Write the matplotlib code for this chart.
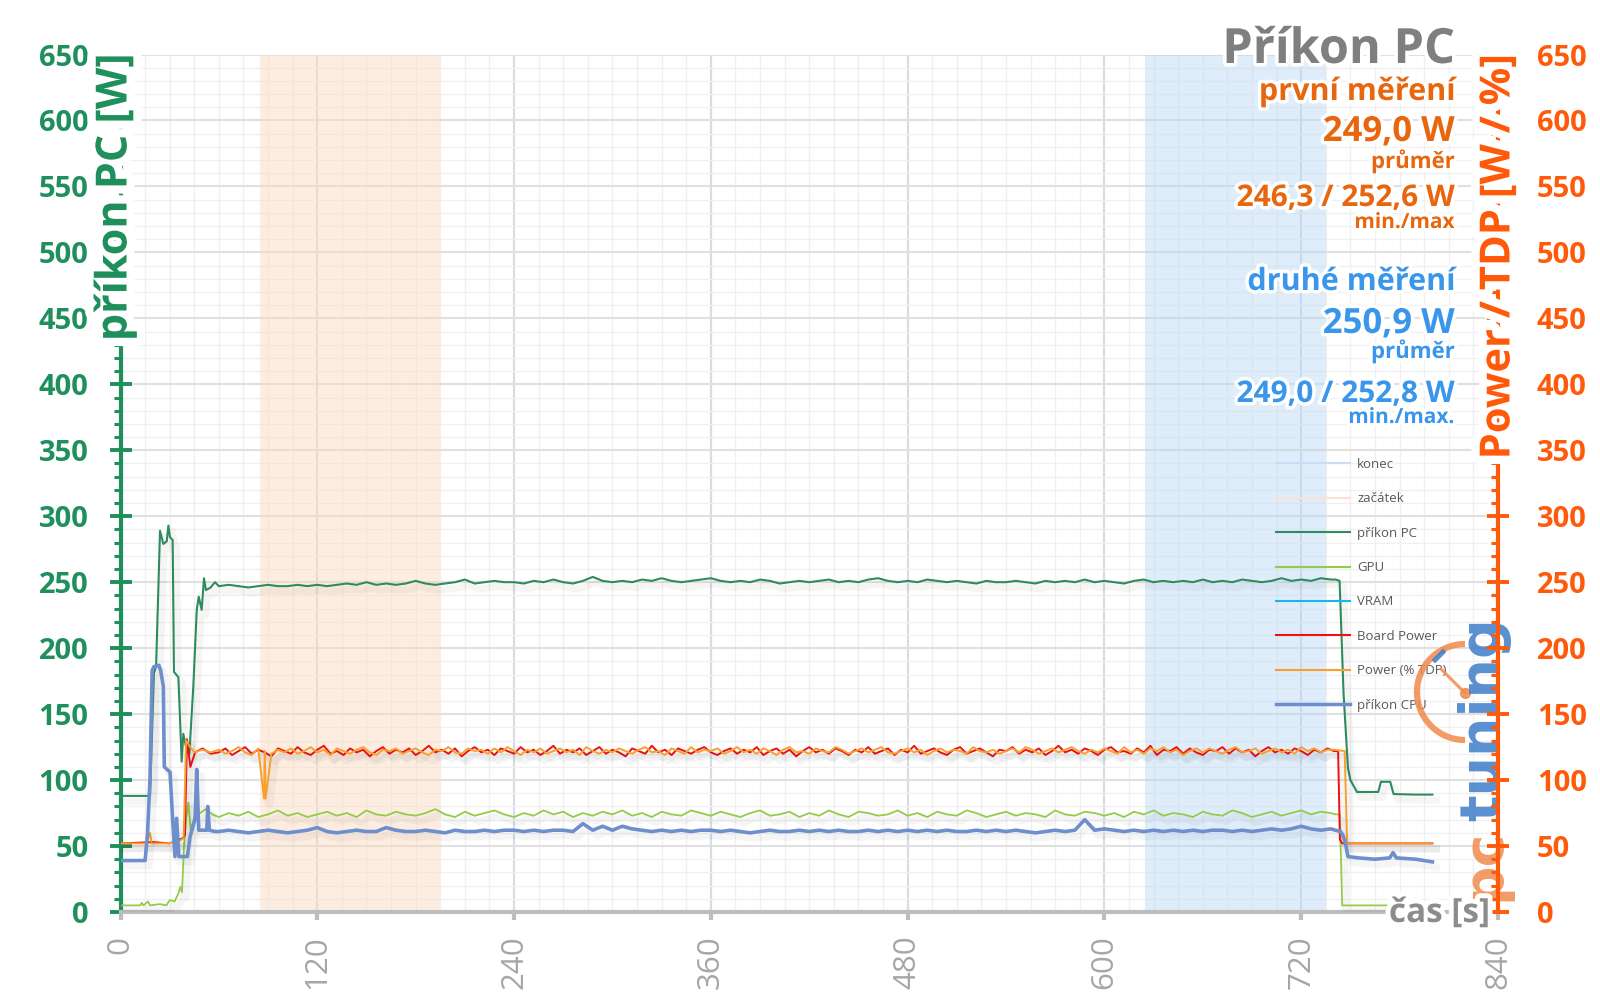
import numpy as np
import matplotlib
matplotlib.use("Agg")
import matplotlib.pyplot as plt
from matplotlib.lines import Line2D
import matplotlib.patheffects as pe

plt.rcParams['font.family'] = ['Open Sans', 'DejaVu Sans']

# ---- data (time in s, values in W / %) ----
# start-up part, explicit points
pc_start_t = [0, 18, 20.4, 21.7, 24.1, 26.1, 28.2, 29.2, 30.2, 31.8, 32.6, 35.3, 37.3, 38.3,
              40, 42, 44.4, 46.5, 47.7, 49.5, 50.9, 52.1, 55, 57.6]
pc_start = [88, 88, 181, 186, 289, 279, 281, 293, 284, 282, 182, 178, 114, 135,
            125, 120, 171, 229, 239, 229, 253, 244, 246, 250]
gpu_start_t = [0, 12, 13, 14, 16.8, 18, 24, 28, 30, 33, 35.3, 36.5, 37.5, 38.7, 40, 41.4,
               42.8, 45, 48.5, 52, 56]
gpu_start = [5, 5, 7, 5, 8, 5, 6, 5, 9, 8, 14, 19, 15, 49, 70, 83, 62, 72, 75, 78, 74]
cpu_start_t = [0, 15, 16.5, 18, 19.3, 20.4, 23.4, 24.5, 26.1, 26.7, 30.2, 31.8, 33.2, 34.2,
               35.6, 40.8, 42.4, 45.4, 46.5, 47.7, 52.6, 53.2, 54.2, 57.6]
cpu_start = [39, 39, 60, 102, 183, 186, 187, 183, 171, 110, 106, 70, 42, 71,
             42, 42, 57, 70, 108, 62, 62, 80, 62, 61]
red_start_t = [0, 20, 30, 36, 38, 39.3, 40.5, 42.6, 45.5, 50, 55]
red_start = [52, 53, 52, 55, 56, 58, 131, 110, 121, 124, 120]
tdp_start_t = [0, 16, 18, 19, 30, 36, 38.5, 40, 42, 45, 50, 55]
tdp_start = [52, 52, 60, 52, 52, 54, 56, 130, 126, 121, 123, 121]

# steady part, every 6 s from 60 s
pc_steady = [247, 248, 247, 246, 247, 248, 247, 247, 248, 247,
             248, 247, 248, 249, 248, 250, 248, 249, 248, 249,
             251, 249, 248, 249, 250, 252, 249, 250, 251, 250,
             250, 249, 251, 250, 252, 250, 249, 251, 254, 251,
             250, 251, 250, 252, 251, 253, 251, 250, 251, 252,
             253, 251, 250, 251, 250, 252, 251, 249, 250, 251,
             250, 251, 252, 250, 251, 250, 252, 253, 251, 250,
             251, 250, 252, 251, 250, 251, 250, 249, 251, 250,
             250, 251, 250, 249, 251, 250, 251, 250, 252, 250,
             251, 250, 249, 251, 252, 250, 251, 250, 251, 250,
             252, 250, 251, 250, 252, 251, 250, 251, 253, 251,
             252, 251, 253, 252]
gpu_steady = [72, 75, 73, 76, 72, 74, 77, 73, 75, 72,
              74, 76, 73, 75, 72, 77, 74, 73, 76, 74,
              73, 75, 78, 74, 72, 76, 73, 75, 77, 74,
              72, 75, 73, 77, 74, 76, 72, 75, 73, 76,
              74, 77, 73, 75, 72, 76, 74, 73, 77, 75,
              73, 76, 74, 72, 75, 77, 73, 74, 76, 72,
              75, 73, 77, 74, 72, 76, 75, 73, 74, 77,
              73, 75, 72, 76, 74, 73, 77, 75, 72, 74,
              76, 73, 75, 74, 72, 77, 74, 73, 76, 75,
              73, 75, 72, 76, 74, 77, 73, 75, 74, 72,
              76, 74, 73, 77, 75, 72, 74, 76, 73, 75,
              77, 74, 76, 75]
cpu_steady = [61, 62, 61, 60, 61, 62, 61, 60, 61, 62,
              64, 61, 60, 61, 62, 61, 61, 64, 62, 61,
              61, 62, 61, 60, 62, 61, 61, 62, 61, 62,
              62, 61, 62, 61, 62, 62, 61, 67, 62, 65,
              62, 65, 63, 62, 61, 62, 61, 62, 61, 62,
              62, 61, 62, 61, 60, 61, 62, 61, 61, 62,
              61, 62, 61, 62, 61, 61, 62, 61, 62, 61,
              62, 61, 62, 61, 62, 61, 61, 62, 61, 62,
              61, 62, 61, 60, 61, 62, 61, 62, 70, 62,
              63, 62, 61, 62, 61, 62, 61, 62, 61, 62,
              61, 62, 62, 61, 62, 61, 62, 63, 62, 63,
              65, 63, 62, 63]
# steady part, every 4 s from 60 s
red_steady = [121, 124, 119, 122, 125, 120, 123, 121, 118, 124,
              122, 120, 125, 121, 119, 123, 126, 120, 122, 119,
              124, 121, 123, 118, 122, 125, 120, 123, 121, 124,
              119, 122, 126, 121, 123, 120, 124, 118, 122, 125,
              121, 123, 119, 124, 122, 120, 125, 121, 123, 119,
              122, 126, 120, 123, 121, 124, 119, 122, 125, 120,
              123, 121, 118, 124, 122, 120, 126, 121, 123, 119,
              124, 122, 120, 123, 125, 121, 119, 122, 124, 120,
              123, 121, 125, 119, 122, 124, 120, 123, 118, 122,
              125, 121, 123, 120, 124, 122, 119, 123, 121, 125,
              120, 122, 124, 119, 123, 121, 126, 120, 122, 124,
              121, 119, 123, 125, 120, 122, 124, 121, 118, 123,
              122, 125, 120, 123, 121, 124, 119, 122, 126, 121,
              123, 120, 124, 122, 119, 123, 125, 121, 122, 120,
              124, 121, 126, 119, 123, 122, 125, 120, 124, 121,
              119, 123, 122, 125, 120, 124, 121, 123, 118, 122,
              125, 121, 123, 120, 124, 122, 119, 123, 121, 124, 122]
tdp_steady = [123, 120, 122, 125, 121, 119, 124, 122, 120, 123,
              121, 124, 120, 122, 125, 121, 123, 119, 124, 122,
              120, 123, 125, 121, 119, 123, 122, 124, 120, 122,
              124, 121, 119, 123, 122, 125, 121, 120, 124, 122,
              123, 120, 124, 121, 125, 122, 119, 123, 121, 124,
              120, 122, 124, 121, 123, 119, 125, 122, 120, 123,
              121, 124, 122, 120, 123, 125, 121, 122, 119, 124,
              122, 120, 125, 121, 123, 122, 124, 120, 122, 125,
              121, 123, 120, 124, 122, 119, 123, 125, 121, 122,
              120, 124, 122, 121, 125, 123, 120, 122, 124, 121,
              123, 125, 121, 120, 122, 124, 121, 123, 119, 122,
              124, 121, 123, 122, 120, 125, 122, 121, 123, 120,
              122, 124, 121, 125, 123, 120, 122, 124, 121, 123,
              125, 122, 120, 123, 121, 124, 122, 120, 125, 121,
              123, 120, 124, 122, 125, 121, 123, 119, 122, 124,
              121, 124, 122, 120, 123, 125, 121, 122, 124, 120,
              122, 124, 121, 123, 120, 125, 122, 124, 121, 123, 123]
tdp_dip_t = [87.5, 88.5]
tdp_dip = [86, 86]

# end part
pc_end_t = [741, 743.4, 745.8, 748.5, 750, 754, 767, 768.6, 774.3, 776.3, 790, 800]
pc_end = [252, 251, 166, 109, 100, 91, 91, 98.7, 98.7, 89.4, 89, 89]
gpu_end_t = [741, 743.5, 745, 770, 800]
gpu_end = [74, 74, 5, 5, 5]
cpu_end_t = [741, 744, 745.5, 747, 748.5, 755, 765, 774, 776, 778, 790, 800]
cpu_end = [62, 61, 58, 52, 42, 41, 40, 41, 45, 41, 40, 38]
red_end_t = [742.5, 743.6, 745, 800]
red_end = [122, 55, 52, 52]
tdp_end_t = [746.5, 748, 800]
tdp_end = [122, 52, 52]

span_start = (85, 195)   # začátek
span_end = (625, 735)    # konec

stats1 = ["první měření", "249,0 W", "průměr", "246,3 / 252,6 W", "min./max"]
stats2 = ["druhé měření", "250,9 W", "průměr", "249,0 / 252,8 W", "min./max."]


def series(t0, v0, steady, step, t1, v1, extra_t=(), extra_v=()):
    ts = list(t0) + list(60 + step * np.arange(len(steady))) + list(t1) + list(extra_t)
    vs = list(v0) + list(steady) + list(v1) + list(extra_v)
    order = np.argsort(ts, kind="stable")
    return np.array(ts)[order], np.array(vs)[order]


C_PC = '#2e8b5e'
C_GPU = '#92cc4a'
C_VRAM = '#1cb4ec'
C_RED = '#f01010'
C_TDP = '#f7a030'
C_CPU = '#6f8fcc'
C_LEFT = '#1f8f5c'
C_RIGHT = '#ff5a0a'
C_T1 = '#e8660e'
C_T2 = '#3a96ea'

W, H = 1600, 1008
fig = plt.figure(figsize=(16, 10.08), dpi=100)
x0, x1, yb, yt = 120.5, 1498, 912, 54.5
ax = fig.add_axes([x0 / W, 1 - yb / H, (x1 - x0) / W, (yb - yt) / H])
ax.set_zorder(1)

ax.set_xlim(0, 840)
ax.set_ylim(0, 650)
ax.xaxis.set_major_locator(plt.MultipleLocator(120))
ax.xaxis.set_minor_locator(plt.MultipleLocator(15))
ax.yaxis.set_major_locator(plt.MultipleLocator(50))
ax.yaxis.set_minor_locator(plt.MultipleLocator(10))
ax.set_axisbelow(True)
ax.grid(which='major', axis='y', color='#e0e0e0', linewidth=1.5, zorder=0)
ax.grid(which='major', axis='x', color='#d8dde4', linewidth=1.6, zorder=0)
ax.grid(which='minor', color='#f0f0f0', linewidth=1.0, zorder=0)

ax.axvspan(*span_start, color='#fcd9bd', alpha=0.45, lw=0, zorder=0.6)
ax.axvspan(*span_end, color='#b9d8f7', alpha=0.45, lw=0, zorder=0.6)

shadow = [pe.SimpleLineShadow(offset=(3, -4), shadow_color='black', alpha=0.04, linewidth=5), pe.Normal()]

t, v = series(pc_start_t, pc_start, pc_steady, 6, pc_end_t, pc_end)
ax.plot(t, v, color=C_PC, lw=1.5, zorder=3, path_effects=shadow)
t, v = series(gpu_start_t, gpu_start, gpu_steady, 6, gpu_end_t, gpu_end)
ax.plot(t, v, color=C_GPU, lw=1.3, zorder=3, path_effects=shadow)
t, v = series(red_start_t, red_start, red_steady, 4, red_end_t, red_end)
ax.plot(t, v, color=C_RED, lw=1.4, zorder=3, path_effects=shadow)
t, v = series(tdp_start_t, tdp_start, tdp_steady, 4, tdp_end_t, tdp_end, tdp_dip_t, tdp_dip)
ax.plot(t, v, color=C_TDP, lw=1.4, zorder=3, path_effects=shadow)
t, v = series(cpu_start_t, cpu_start, cpu_steady, 6, cpu_end_t, cpu_end)
ax.plot(t, v, color=C_CPU, lw=2.6, zorder=3, path_effects=shadow)

# spines / ticks
for s in ['top', 'right']:
    ax.spines[s].set_visible(False)
ax.spines['left'].set_color(C_LEFT)
ax.spines['left'].set_linewidth(3)
ax.spines['bottom'].set_color('#bdbdbd')
ax.spines['bottom'].set_linewidth(3)
ax.tick_params(axis='y', which='major', direction='inout', length=16, width=2.8,
               color=C_LEFT, labelcolor=C_LEFT, labelsize=21, pad=15)
ax.tick_params(axis='y', which='minor', direction='out', length=5, width=2.2, color=C_LEFT)
ax.tick_params(axis='x', which='major', direction='out', length=6, width=3, color='#bdbdbd',
               labelcolor='#a6a6a6', labelsize=22.5, pad=11, labelrotation=90)
ax.tick_params(axis='x', which='minor', length=0)
for lab in ax.get_yticklabels():
    lab.set_fontweight('bold')

ax2 = ax.twinx()
ax2.set_zorder(3)
ax2.set_ylim(0, 650)
ax2.yaxis.set_major_locator(plt.MultipleLocator(50))
ax2.yaxis.set_minor_locator(plt.MultipleLocator(10))
for s in ['top', 'left', 'bottom']:
    ax2.spines[s].set_visible(False)
ax2.spines['right'].set_color(C_RIGHT)
ax2.spines['right'].set_linewidth(3)
ax2.tick_params(axis='y', which='major', direction='inout', length=16, width=2.8,
                color=C_RIGHT, labelcolor=C_RIGHT, labelsize=21, pad=20)
ax2.tick_params(axis='y', which='minor', direction='in', length=5, width=2.2, color=C_RIGHT)
for lab in ax2.get_yticklabels():
    lab.set_fontweight('bold')


def ftext(x, y, s, **kw):
    return fig.text(x / W, 1 - y / H, s, **kw)


# axis titles
glow = [pe.withStroke(linewidth=12, foreground='white')]
ftext(115, 54, "příkon PC [W]", rotation=90, ha='center', va='top', color=C_LEFT,
      fontsize=31, fontweight='bold', path_effects=glow, zorder=5)
ftext(1499, 54, "Power / TDP [W / %]", rotation=90, ha='center', va='top', color=C_RIGHT,
      fontsize=30, fontweight='bold', path_effects=glow, zorder=5)
ftext(1490, 922, "čas [s]", ha='right', va='baseline', color='#8c8c8c',
      fontsize=24, fontweight='bold', path_effects=[pe.withStroke(linewidth=7, foreground='white')],
      zorder=5)

# title and stats block
tglow = [pe.withStroke(linewidth=5, foreground='white')]
ftext(1455, 63, "Příkon PC", ha='right', va='baseline', color='#7f7f7f',
      fontsize=35, fontweight='bold', path_effects=tglow, zorder=5)
ys = [100, 141, 168, 206, 228]
sizes = [22, 25, 16, 21.5, 15]
for txt, y, fs in zip(stats1, ys, sizes):
    ftext(1455, y, txt, ha='right', va='baseline', color=C_T1, fontsize=fs,
          fontweight='bold', path_effects=tglow, zorder=5)
ys = [290, 333, 358, 402, 423]
for txt, y, fs in zip(stats2, ys, sizes):
    ftext(1455, y, txt, ha='right', va='baseline', color=C_T2, fontsize=fs,
          fontweight='bold', path_effects=tglow, zorder=5)

# legend
handles = [Line2D([], [], color='#c8def5', lw=1.5),
           Line2D([], [], color='#fde3cf', lw=1.5),
           Line2D([], [], color=C_PC, lw=1.5),
           Line2D([], [], color=C_GPU, lw=1.5),
           Line2D([], [], color=C_VRAM, lw=1.5),
           Line2D([], [], color=C_RED, lw=1.5),
           Line2D([], [], color=C_TDP, lw=1.5),
           Line2D([], [], color=C_CPU, lw=2.5)]
labels = ["konec", "začátek", "příkon PC", "GPU", "VRAM", "Board Power", "Power (% TDP)", "příkon CPU"]
leg = ax.legend(handles, labels, loc='upper left', bbox_to_anchor=(1276 / W, 1 - 458 / H),
                bbox_transform=fig.transFigure, frameon=False, fontsize=9.5,
                labelcolor='#595959', handlelength=5.6, handletextpad=0.55,
                labelspacing=1.62, borderpad=0, borderaxespad=0)
leg.set_zorder(4)

# pctuning watermark
wm = fig.add_axes([0, 0, 1, 1])
wm.set_xlim(0, W)
wm.set_ylim(H, 0)
wm.axis('off')
wm.set_zorder(2)
a = np.linspace(np.pi / 2, 3 * np.pi / 2, 60)
wm.plot(1465 + 48 * np.cos(a), 692 - 48 * np.sin(a), color='#f08a4c', lw=4.5, alpha=0.85,
        solid_capstyle='butt')
wm.plot([1465, 1441], [693, 669], color='#f08a4c', lw=2.2, alpha=0.85)
wm.plot([1465], [693], 'o', color='#f08a4c', ms=7, alpha=0.85)
wm.plot([1435, 1443], [660, 652], color='#3d7cc9', lw=3.5, alpha=0.85)
wm.text(1499, 901, "pc", rotation=90, rotation_mode='anchor', ha='left', va='baseline',
        color='#f08a4c', fontsize=40, fontweight='bold', alpha=0.85, family='DejaVu Sans')
wm.text(1499, 821, "tuning", rotation=90, rotation_mode='anchor', ha='left', va='baseline',
        color='#3d7cc9', fontsize=40, fontweight='bold', alpha=0.85, family='DejaVu Sans')

fig.savefig("out.png", dpi=100, facecolor='white')
